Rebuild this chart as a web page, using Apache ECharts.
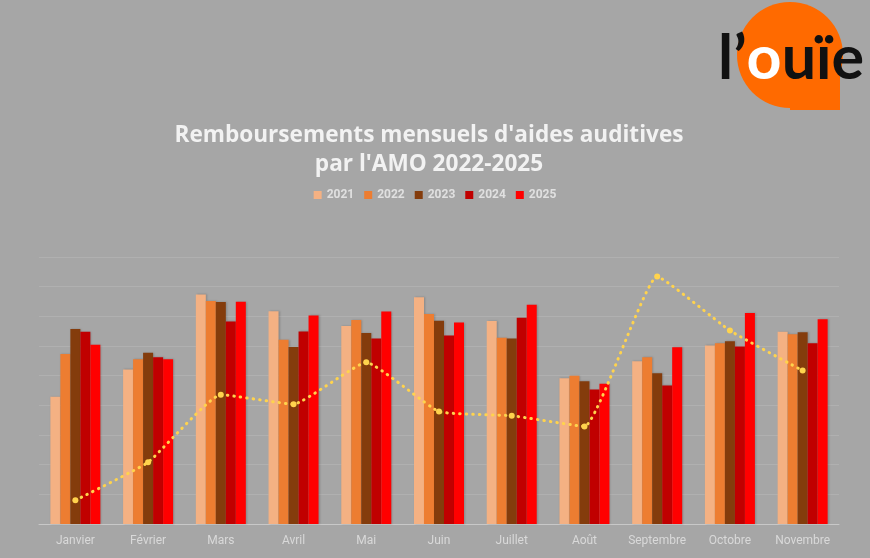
<!DOCTYPE html>
<html><head><meta charset="utf-8">
<script src="https://cdn.jsdelivr.net/npm/echarts@6/dist/echarts.min.js"></script>
<style>html,body{margin:0;padding:0;background:#A6A6A6;}#c{width:870px;height:558px;}</style>
</head><body><div id="c"></div>
<script>
const months = ['Janvier','Février','Mars','Avril','Mai','Juin','Juillet','Août','Septembre','Octobre','Novembre'];
const years = ['2021','2022','2023','2024','2025'];
const v2021 = [4.29,5.21,7.74,7.17,6.67,7.64,6.84,4.91,5.49,6.02,6.48];
const v2022 = [5.73,5.55,7.52,6.21,6.88,7.08,6.28,5.00,5.62,6.09,6.40];
const v2023 = [6.57,5.77,7.48,5.97,6.44,6.85,6.25,4.81,5.08,6.16,6.46];
const v2024 = [6.48,5.62,6.83,6.49,6.25,6.35,6.95,4.53,4.67,5.98,6.09];
const v2025 = [6.04,5.55,7.49,7.03,7.16,6.79,7.39,4.73,5.96,7.11,6.90];
const trend = [0.80,2.08,4.36,4.04,5.45,3.79,3.65,3.29,8.34,6.52,5.17];
const colors = ['#F4B183','#ED7D31','#843C0C','#C00000','#FF0000'];
const values = [v2021,v2022,v2023,v2024,v2025];

const chart = echarts.init(document.getElementById('c'));
const barSeries = years.map((y,i)=>({
  name:y, type:'bar', data:values[i], barWidth:10, barGap:'0%',
  itemStyle:{color:colors[i], shadowColor:'rgba(0,0,0,0.18)', shadowBlur:2, shadowOffsetX:1},
  z:2
}));
chart.setOption({
  backgroundColor:'#A6A6A6',
  animation:false,
  legend:{data:years, top:184, left:'center', icon:'rect', itemWidth:8, itemHeight:8, itemGap:10,
    textStyle:{color:'#E0E0E0', fontSize:12, fontWeight:'bold', fontFamily:'Roboto'}},
  grid:{left:39, right:31, top:257, bottom:34},
  xAxis:{type:'category', data:months,
    axisLine:{lineStyle:{color:'#C8C8C8', width:1}}, axisTick:{show:false},
    axisLabel:{color:'#D9D9D9', fontSize:12, margin:11, interval:0, fontFamily:'Roboto'}},
  yAxis:{type:'value', min:0, max:9, interval:1, axisLabel:{show:false}, axisLine:{show:false}, axisTick:{show:false},
    splitLine:{lineStyle:{color:'#B0B0B0', width:1}}},
  series: barSeries.concat([{
    name:'tendance', type:'line', data:trend, smooth:0.12, z:5,
    symbol:'circle', symbolSize:6,
    itemStyle:{color:'#FFD34D'},
    lineStyle:{color:'#FFD34D', width:3, type:[0.5,6], cap:'round'}
  }]),
  graphic:[
    {type:'text', style:{text:"Remboursements mensuels d'aides auditives\npar l'AMO 2022-2025", x:429, y:150,
      align:'center', verticalAlign:'middle', fill:'#F2F2F2', font:'bold 22.6px "Open Sans"', lineHeight:29,
      shadowColor:'rgba(0,0,0,0.45)', shadowBlur:3, shadowOffsetX:1, shadowOffsetY:1}},
    {type:'circle', shape:{cx:790, cy:55, r:53}, style:{fill:'#FF6A00'}, z:10},
    {type:'rect', shape:{x:790, y:55, width:50, height:55}, style:{fill:'#FF6A00'}, z:10},
    {type:'text', z:11, style:{x:718, y:90, verticalAlign:'bottom',
      text:'{b|l’}{w|o}{b|uïe}',
      rich:{b:{fill:'#111111', font:'bold 61px Lato'}, w:{fill:'#FFFFFF', font:'bold 61px Lato'}}}}
  ]
});
</script></body></html>
